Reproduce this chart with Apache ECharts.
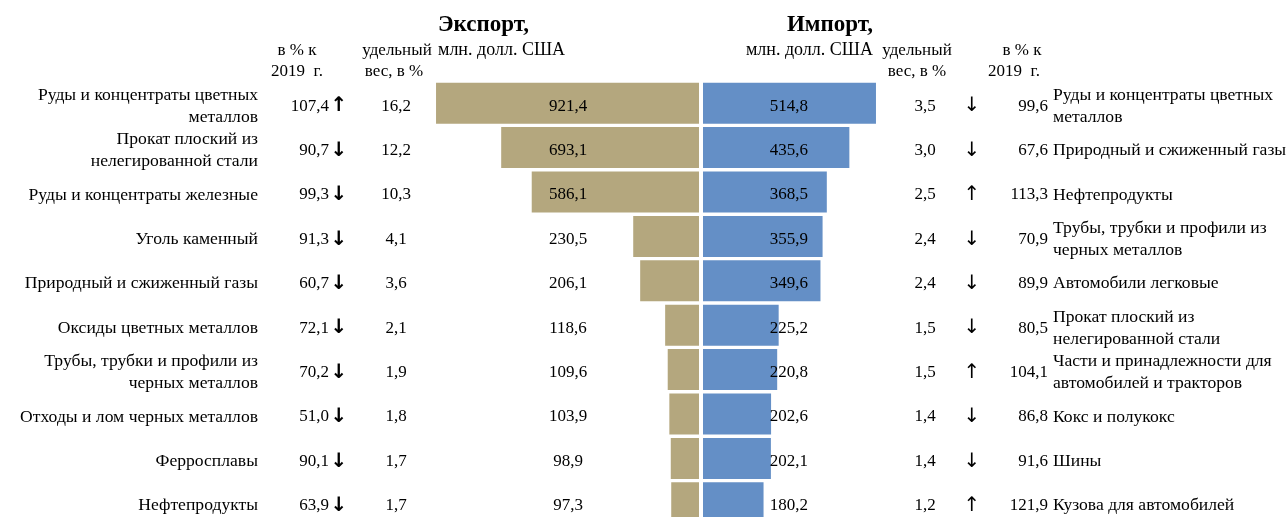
<!DOCTYPE html>
<html>
<head>
<meta charset="utf-8">
<script src="https://cdn.jsdelivr.net/npm/echarts@6/dist/echarts.min.js"></script>
<style>
  html, body { margin: 0; padding: 0; background: #fff; }
  #chart { width: 1288px; height: 517px; }
</style>
</head>
<body>
<div id="chart"></div>
<script>
// экспорт
const expNames = [
  "Руды и концентраты цветных\nметаллов",
  "Прокат плоский из\nнелегированной стали",
  "Руды и концентраты железные",
  "Уголь каменный",
  "Природный и сжиженный газы",
  "Оксиды цветных металлов",
  "Трубы, трубки и профили из\nчерных металлов",
  "Отходы и лом черных металлов",
  "Ферросплавы",
  "Нефтепродукты",
];
const expVals = [921.4, 693.1, 586.1, 230.5, 206.1, 118.6, 109.6, 103.9, 98.9, 97.3];
const expPct = [107.4, 90.7, 99.3, 91.3, 60.7, 72.1, 70.2, 51.0, 90.1, 63.9];
const expShare = [16.2, 12.2, 10.3, 4.1, 3.6, 2.1, 1.9, 1.8, 1.7, 1.7];

// импорт
const impNames = [
  "Руды и концентраты цветных\nметаллов",
  "Природный и сжиженный газы",
  "Нефтепродукты",
  "Трубы, трубки и профили из\nчерных металлов",
  "Автомобили легковые",
  "Прокат плоский из\nнелегированной стали",
  "Части и принадлежности для\nавтомобилей и тракторов",
  "Кокс и полукокс",
  "Шины",
  "Кузова для автомобилей",
];
const impVals = [514.8, 435.6, 368.5, 355.9, 349.6, 225.2, 220.8, 202.6, 202.1, 180.2];
const impPct = [99.6, 67.6, 113.3, 70.9, 89.9, 80.5, 104.1, 86.8, 91.6, 121.9];
const impShare = [3.5, 3.0, 2.5, 2.4, 2.4, 1.5, 1.5, 1.4, 1.4, 1.2];

const rows = expNames.map((_, i) => "r" + i);
const fmt = (v) => v.toFixed(1).replace(".", ",");
const arrow = (v) => (v >= 100 ? "↑" : "↓");

const FONT = '"Liberation Serif", "Times New Roman", serif';
const TOP = 81, HEIGHT = 444;

const chart = echarts.init(document.getElementById("chart"));

// колонка текста на общей сетке (gridIndex 2)
function column(x, align, texts, extra) {
  return {
    gridIndex: 2,
    type: "category",
    inverse: true,
    data: rows,
    position: "left",
    offset: -x,
    z: 10,
    axisLine: { show: false },
    axisTick: { show: false },
    splitLine: { show: false },
    axisLabel: Object.assign({
      interval: 0,
      margin: 0,
      align: align,
      color: "#000",
      fontFamily: FONT,
      fontSize: 17,
      lineHeight: 22,
      formatter: (v, i) => texts[i],
    }, extra || {}),
  };
}

const nameStyle = { fontSize: 17.6 };
const arrowBold = { fontFamily: "DejaVu Sans", fontSize: 20, fontWeight: "bold" };
const arrowThin = { fontFamily: "DejaVu Sans", fontSize: 20 };

function txt(text, x, y, align, bold, size) {
  return {
    type: "text",
    x: x,
    y: y,
    style: {
      text: text,
      textAlign: align,
      textVerticalAlign: "middle",
      font: (bold ? "bold " : "") + (size || 17) + "px " + FONT,
      fill: "#000",
    },
  };
}

const option = {
  animation: false,
  backgroundColor: "#fff",
  grid: [
    { left: 413.6, width: 285.4, top: TOP, height: HEIGHT, outerBoundsMode: "none" },
    { left: 703, width: 336, top: TOP, height: HEIGHT, outerBoundsMode: "none" },
    { left: 0, width: 1288, top: TOP + 3, height: HEIGHT, outerBoundsMode: "none" },
  ],
  xAxis: [
    { gridIndex: 0, type: "value", inverse: true, min: 0, max: 1000, show: false },
    { gridIndex: 1, type: "value", min: 0, max: 1000, show: false },
    { gridIndex: 2, type: "value", min: 0, max: 1, show: false },
  ],
  yAxis: [
    { gridIndex: 0, type: "category", inverse: true, data: rows, show: false },
    { gridIndex: 1, type: "category", inverse: true, data: rows, show: false },
    column(258, "right", expNames, nameStyle),
    column(329, "right", expPct.map(fmt)),
    column(339, "center", expPct.map(arrow), arrowBold),
    column(396, "center", expShare.map(fmt)),
    column(568, "center", expVals.map(fmt)),
    column(808, "right", impVals.map(fmt)),
    column(925, "center", impShare.map(fmt)),
    column(972, "center", impPct.map(arrow), arrowThin),
    column(1048, "right", impPct.map(fmt)),
    column(1053, "left", impNames, nameStyle),
  ],
  series: [
    {
      name: "Экспорт",
      type: "bar",
      xAxisIndex: 0,
      yAxisIndex: 0,
      data: expVals,
      barWidth: 41,
      itemStyle: { color: "#b4a77e" },
    },
    {
      name: "Импорт",
      type: "bar",
      xAxisIndex: 1,
      yAxisIndex: 1,
      data: impVals,
      barWidth: 41,
      itemStyle: { color: "#648fc6" },
    },
  ],
  graphic: [
    txt("Экспорт,", 438, 25, "left", true, 23),
    txt("млн. долл. США", 438, 50, "left", false, 18),
    txt("Импорт,", 873, 25, "right", true, 23),
    txt("млн. долл. США", 873, 50, "right", false, 18),
    txt("в % к", 297, 51, "center"),
    txt("2019  г.", 297, 72, "center"),
    txt("удельный", 397, 51, "center"),
    txt("вес, в %", 394, 72, "center"),
    txt("удельный", 917, 51, "center"),
    txt("вес, в %", 917, 72, "center"),
    txt("в % к", 1022, 51, "center"),
    txt("2019  г.", 1014, 72, "center"),
  ],
};

chart.setOption(option);
</script>
</body>
</html>
